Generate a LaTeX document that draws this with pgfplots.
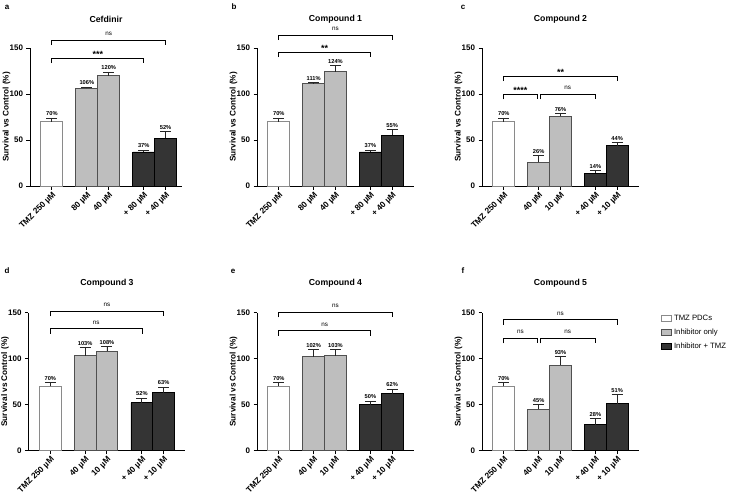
\documentclass[border=0pt]{standalone}
\usepackage{pgfplots}
\pgfplotsset{compat=1.18}
\usepackage{fontspec}
\setmainfont{Liberation Sans}

\definecolor{inhib}{HTML}{BEBEBE}
\definecolor{combo}{HTML}{343434}
\definecolor{tmzedge}{HTML}{8A8A8A}
\definecolor{inhibedge}{HTML}{505050}

\newcommand{\fs}[1]{\fontsize{#1}{#1}\selectfont}

% significance brackets: x1, x2, height (data units), label
\newcommand{\nsbracket}[3]{%
  \draw[line width=0.75pt] (axis cs:#1,#3) ++(0,-5pt) -- (axis cs:#1,#3)
    -- node[anchor=base, yshift=4.5pt, font=\fs{6.3}]{ns} (axis cs:#2,#3) -- ++(0,-5pt);}
\newcommand{\starbracket}[4]{%
  \draw[line width=0.75pt] (axis cs:#1,#3) ++(0,-5pt) -- (axis cs:#1,#3)
    -- node[anchor=base, yshift=0.5pt, font=\bfseries\fs{9}]{#4} (axis cs:#2,#3) -- ++(0,-5pt);}

\pgfplotsset{
  panel/.style={
    scale only axis, width=157pt, height=138pt, anchor=south west,
    xmin=0, xmax=7.2, ymin=0, ymax=150,
    axis lines=left,
    axis line style={-, line width=1pt},
    xtick={1,2.6,3.6,5.2,6.2},
    ytick={0,50,100,150},
    tick align=outside,
    major tick length=3.5pt,
    tick style={line width=1pt, black},
    /pgf/number format/assume math mode=true,
    yticklabel style={font=\bfseries\fs{8}},
    xticklabel style={font=\bfseries\fs{8.3}, rotate=45, anchor=north east, inner sep=1pt},
    ylabel={Survival vs Control (\%)},
    ylabel style={font=\bfseries\fs{8.2}},
    ylabel shift=-7.5pt,
    title style={at={(0.5,1)}, anchor=center, yshift=23pt, font=\bfseries\fs{8.7}},
    clip=false,
    bar width=1,
    error bars/y dir=plus,
    error bars/y explicit,
    error bars/error bar style={line width=0.8pt, black!85},
    error bars/error mark options={rotate=90, mark size=5.5pt, line width=0.8pt, black!85},
    visualization depends on={\thisrow{e} \as \errv},
    nodes near coords={\pgfmathprintnumber{\pgfplotspointmeta}\%},
    every node near coord/.append style={font=\bfseries\fs{5.7}, black, yshift=\errv*0.92pt, inner sep=1.8pt},
  },
  tmz/.style={ybar, fill=white, draw=tmzedge, line width=0.9pt,
    legend image code/.code={\draw[##1] (0pt,-3pt) rectangle (10pt,3pt);}},
  inh/.style={ybar, fill=inhib, draw=inhibedge, line width=0.9pt,
    legend image code/.code={\draw[##1] (0pt,-3pt) rectangle (10pt,3pt);}},
  cmb/.style={ybar, fill=combo, draw=black, line width=0.9pt,
    legend image code/.code={\draw[##1] (0pt,-3pt) rectangle (10pt,3pt);}},
}

\begin{document}
\begin{tikzpicture}[x=1pt,y=1pt]
\path[use as bounding box] (0pt,0pt) rectangle (731pt,-498pt);

% panel letters
\foreach \lab/\px/\py in {a/7/-7, b/234/-7, c/463/-7, d/7/-271, e/233/-271, f/463/-271}
  \node[font=\bfseries\fs{8}] at (\px pt,\py pt) {\lab};

% a: Cefdinir
\begin{axis}[panel, at={(30pt,-186pt)}, title={Cefdinir}, xmax=6.95, width=152pt,
  xticklabels={TMZ 250 µM, 80 µM, 40 µM, + 80 µM, + 40 µM}]
\addplot[tmz] table[x=x,y=y,y error=e,row sep=\\]{x y e\\ 1 70 4\\};
\addplot[inh] table[x=x,y=y,y error=e,row sep=\\]{x y e\\ 2.6 106 1.5\\ 3.6 120 4\\};
\addplot[cmb] table[x=x,y=y,y error=e,row sep=\\]{x y e\\ 5.2 37 2\\ 6.2 52 7\\};
\nsbracket{1}{6.2}{158.5}
\starbracket{1}{5.2}{139}{***}
\end{axis}

% b: Compound 1
\begin{axis}[panel, at={(257pt,-186pt)}, title={Compound 1},
  xticklabels={TMZ 250 µM, 80 µM, 40 µM, + 80 µM, + 40 µM}]
\addplot[tmz] table[x=x,y=y,y error=e,row sep=\\]{x y e\\ 1 70 4\\};
\addplot[inh] table[x=x,y=y,y error=e,row sep=\\]{x y e\\ 2.6 111 1.5\\ 3.6 124 7\\};
\addplot[cmb] table[x=x,y=y,y error=e,row sep=\\]{x y e\\ 5.2 37 2\\ 6.2 55 6\\};
\nsbracket{1}{6.2}{164}
\starbracket{1}{5.2}{145.5}{**}
\end{axis}

% c: Compound 2
\begin{axis}[panel, at={(482pt,-186pt)}, title={Compound 2},
  xticklabels={TMZ 250 µM, 40 µM, 10 µM, + 40 µM, + 10 µM}]
\addplot[tmz] table[x=x,y=y,y error=e,row sep=\\]{x y e\\ 1 70 4\\};
\addplot[inh] table[x=x,y=y,y error=e,row sep=\\]{x y e\\ 2.6 26 7\\ 3.6 76 3\\};
\addplot[cmb] table[x=x,y=y,y error=e,row sep=\\]{x y e\\ 5.2 14 3\\ 6.2 44 3\\};
\starbracket{1}{6.2}{119.5}{**}
\starbracket{1}{2.53}{99.5}{****}
\nsbracket{2.67}{5.2}{99.5}
\end{axis}

% d: Compound 3
\begin{axis}[panel, at={(28.5pt,-450.7pt)}, title={Compound 3},
  xticklabels={TMZ 250 µM, 40 µM, 10 µM, + 40 µM, + 10 µM}]
\addplot[tmz] table[x=x,y=y,y error=e,row sep=\\]{x y e\\ 1 70 4\\};
\addplot[inh] table[x=x,y=y,y error=e,row sep=\\]{x y e\\ 2.6 103 9\\ 3.6 108 5\\};
\addplot[cmb] table[x=x,y=y,y error=e,row sep=\\]{x y e\\ 5.2 52 5\\ 6.2 63 6\\};
\nsbracket{1}{6.2}{151.5}
\nsbracket{1}{5.2}{132.5}
\end{axis}

% e: Compound 4
\begin{axis}[panel, at={(257pt,-450.7pt)}, title={Compound 4},
  xticklabels={TMZ 250 µM, 40 µM, 10 µM, + 40 µM, + 10 µM}]
\addplot[tmz] table[x=x,y=y,y error=e,row sep=\\]{x y e\\ 1 70 4\\};
\addplot[inh] table[x=x,y=y,y error=e,row sep=\\]{x y e\\ 2.6 102 8\\ 3.6 103 7\\};
\addplot[cmb] table[x=x,y=y,y error=e,row sep=\\]{x y e\\ 5.2 50 4\\ 6.2 62 5\\};
\nsbracket{1}{6.2}{150.3}
\nsbracket{1}{5.2}{130.3}
\end{axis}

% f: Compound 5, with the legend
\begin{axis}[panel, at={(482pt,-450.7pt)}, title={Compound 5},
  xticklabels={TMZ 250 µM, 40 µM, 10 µM, + 40 µM, + 10 µM},
  legend cell align=left,
  legend style={at={(1.14,1.0)}, anchor=north west, draw=none, fill=none,
    font=\fs{7.7}, row sep=3.2pt, inner sep=0pt}]
\addplot[tmz] table[x=x,y=y,y error=e,row sep=\\]{x y e\\ 1 70 4\\};
\addlegendentry{TMZ PDCs}
\addplot[inh] table[x=x,y=y,y error=e,row sep=\\]{x y e\\ 2.6 45 5\\ 3.6 93 9\\};
\addlegendentry{Inhibitor only}
\addplot[cmb] table[x=x,y=y,y error=e,row sep=\\]{x y e\\ 5.2 28 7\\ 6.2 51 10\\};
\addlegendentry{Inhibitor + TMZ}
\nsbracket{1}{6.2}{142.3}
\nsbracket{1}{2.53}{122}
\nsbracket{2.67}{5.2}{122}
\end{axis}
\end{tikzpicture}
\end{document}
